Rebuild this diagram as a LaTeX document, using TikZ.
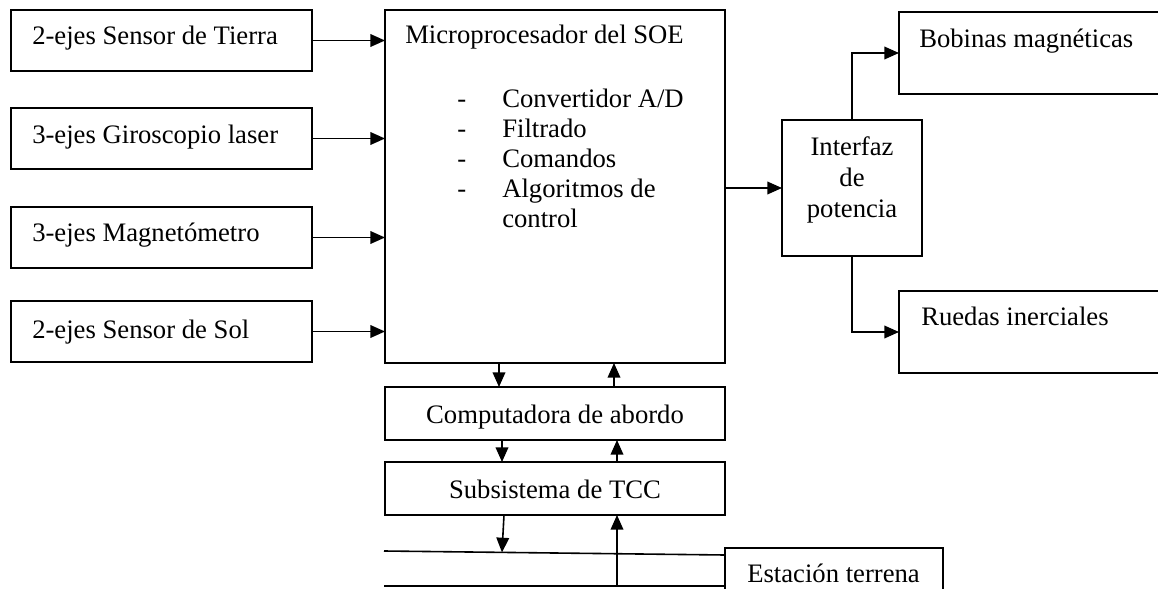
\documentclass[tikz,border=0pt]{standalone}
\usepackage{fontspec}
\setmainfont{Liberation Serif}
\usetikzlibrary{arrows.meta,fit,calc}
\begin{document}
\begin{tikzpicture}[x=0.75pt,y=-0.75pt,
  box/.style={draw, line width=1.4pt, inner sep=0pt, outer sep=0pt},
  arr/.style={-{Triangle[length=11pt,width=9.5pt]}, line width=1.2pt},
  ln/.style={line width=1.2pt},
  txt/.style={anchor=base west, inner sep=0pt, font=\fontsize{20}{22.5}\selectfont},
  ctxt/.style={anchor=base, inner sep=0pt, font=\fontsize{20}{22.5}\selectfont}]
\useasboundingbox (0,0) rectangle (1158,589);
% left sensor boxes
\node[box, fit={(11,10) (312,71)}] (s1) {};
\node[box, fit={(11,108) (312,169)}] (s2) {};
\node[box, fit={(11,207) (312,268)}] (s3) {};
\node[box, fit={(11,301) (312,362)}] (s4) {};
\node[txt] (t1) at (32,45) {2-ejes Sensor de Tierra};
\node[txt] (t2) at (32,143) {3-ejes Giroscopio laser};
\node[txt] (t3) at (32,241) {3-ejes Magnetómetro};
\node[txt] (t4) at (32,338) {2-ejes Sensor de Sol};
% main box
\node[box, fit={(385,10) (725,363)}] (main) {};
\node[txt] (mt) at (405,43) {Microprocesador del SOE};
\node[txt] (d1) at (457,107) {-};
\node[txt] (d2) at (457,137) {-};
\node[txt] (d3) at (457,167) {-};
\node[txt] (d4) at (457,197) {-};
\node[txt] (m1) at (502,107) {Convertidor A/D};
\node[txt] (m2) at (502,137) {Filtrado};
\node[txt] (m3) at (502,167) {Comandos};
\node[txt] (m4) at (502,197) {Algoritmos de};
\node[txt] (m5) at (502,227) {control};
% interface
\node[box, fit={(782,120) (922,256)}] (inter) {};
\node[ctxt] (i1) at (852,155) {Interfaz};
\node[ctxt] (i2) at (852,186) {de};
\node[ctxt] (i3) at (852,217) {potencia};
% actuators
\node[box, fit={(899,12) (1175,94)}] (bob) {};
\node[txt] (bt) at (919,47) {Bobinas magnéticas};
\node[box, fit={(899,291) (1175,373)}] (rue) {};
\node[txt] (rt) at (921,325) {Ruedas inerciales};
% lower boxes
\node[box, fit={(385,387) (725,440)}] (comp) {};
\node[ctxt] (ct) at (555,423) {Computadora de abordo};
\node[box, fit={(385,462) (725,515)}] (sub) {};
\node[ctxt] (st) at (555,498) {Subsistema de TCC};
\node[box, fit={(725,548) (943,610)}] (est) {};
\node[txt] (et) at (747,582) {Estación terrena};
% link lines
\coordinate (l1a) at (384,551);
\coordinate (l1b) at (725,555);
\coordinate (l2a) at (384,586);
\coordinate (l2b) at (725,586);
\draw[ln] (l1a) -- (l1b);
\draw[ln] (l2a) -- (l2b);
% connectors
\draw[arr] (s1.east) -- (s1.east -| main.west);
\draw[arr] (s2.east) -- (s2.east -| main.west);
\draw[arr] (s3.east) -- (s3.east -| main.west);
\draw[arr] (s4.east) -- (s4.east -| main.west);
\draw[arr] (inter.west -| main.east) -- (inter.west);
\draw[arr] (inter.north) |- (bob.west);
\draw[arr] (inter.south) |- (rue.west);
\draw[arr] (main.south -| 499,0) -- (comp.north -| 499,0);
\draw[arr] (comp.north -| 614,0) -- (main.south -| 614,0);
\draw[arr] (comp.south -| 502,0) -- (sub.north -| 502,0);
\draw[arr] (sub.north -| 617,0) -- (comp.south -| 617,0);
\draw[arr] (sub.south -| 504,0) -- ($(l1a)!0.346!(l1b)$);
\draw[arr] (l2a -| 617,0) -- (sub.south -| 617,0);
\end{tikzpicture}
\end{document}
